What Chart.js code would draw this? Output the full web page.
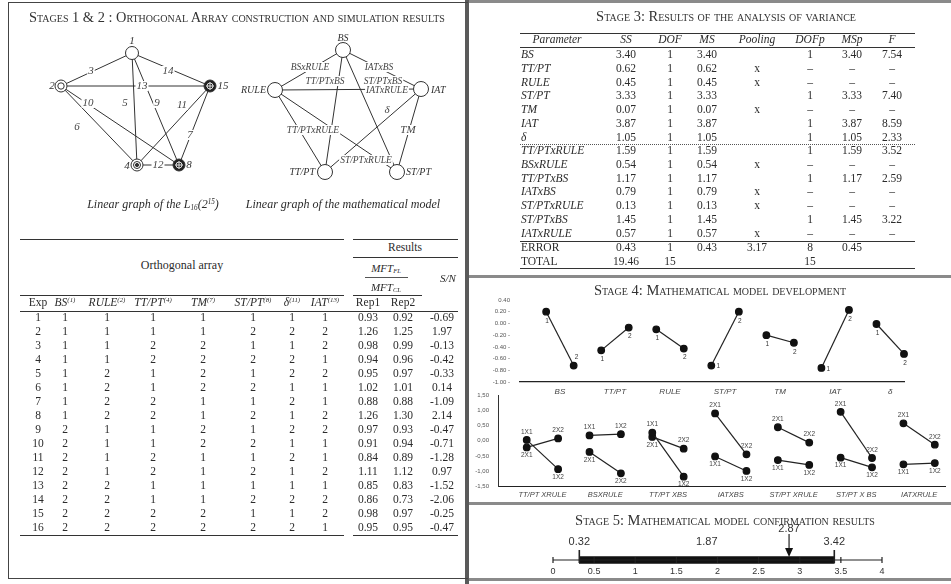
<!DOCTYPE html>
<html lang="en">
<head>
<meta charset="UTF-8">
<title>Taguchi design stages</title>
<script src="https://cdn.jsdelivr.net/npm/chart.js@4.4.1/dist/chart.umd.min.js"></script>
<style>
  body { margin: 0; background: #fff; }
  #page { position: relative; width: 951px; height: 584px; overflow: hidden;
          font-family: "Liberation Serif", "DejaVu Serif", serif; color: #2b2b2b; }
  .abs { position: absolute; white-space: nowrap; line-height: 1; }
  .sc { font-variant: small-caps; font-size: 14.5px; color: #333; }
  .it { font-style: italic; }
  sup { font-size: 0.6em; vertical-align: 0.55em; line-height: 0; }
  sub { font-size: 0.6em; vertical-align: -0.3em; line-height: 0; }
  canvas { position: absolute; }
</style>
</head>
<body>
<div id="page">
  <canvas id="graphs" width="470" height="176" style="left:0;top:24px"></canvas>
  <canvas id="mainFx" width="481" height="114" style="left:470px;top:286px"></canvas>
  <canvas id="interFx" width="481" height="120" style="left:470px;top:383px"></canvas>
  <canvas id="confirm" width="481" height="80" style="left:470px;top:497px"></canvas>
</div>
<script>
// ---- data ----
const oaFactors = ['BS', 'RULE', 'TT/PT', 'TM', 'ST/PT', 'δ', 'IAT'];
const oaColumns = [1, 2, 4, 7, 8, 11, 13];
const oaRows = [
  [1, 1, 1, 1, 1, 1, 1], [1, 1, 1, 1, 2, 2, 2], [1, 1, 2, 2, 1, 1, 2], [1, 1, 2, 2, 2, 2, 1],
  [1, 2, 1, 2, 1, 2, 2], [1, 2, 1, 2, 2, 1, 1], [1, 2, 2, 1, 1, 2, 1], [1, 2, 2, 1, 2, 1, 2],
  [2, 1, 1, 2, 1, 2, 2], [2, 1, 1, 2, 2, 1, 1], [2, 1, 2, 1, 1, 2, 1], [2, 1, 2, 1, 2, 1, 2],
  [2, 2, 1, 1, 1, 1, 1], [2, 2, 1, 1, 2, 2, 2], [2, 2, 2, 2, 1, 1, 2], [2, 2, 2, 2, 2, 2, 1]
];
const rep1 = ['0.93', '1.26', '0.98', '0.94', '0.95', '1.02', '0.88', '1.26', '0.97', '0.91', '0.84', '1.11', '0.85', '0.86', '0.98', '0.95'];
const rep2 = ['0.92', '1.25', '0.99', '0.96', '0.97', '1.01', '0.88', '1.30', '0.93', '0.94', '0.89', '1.12', '0.83', '0.73', '0.97', '0.95'];
const sn = ['-0.69', '1.97', '-0.13', '-0.42', '-0.33', '0.14', '-1.09', '2.14', '-0.47', '-0.71', '-1.28', '0.97', '-1.52', '-2.06', '-0.25', '-0.47'];

const anovaParams = ['BS', 'TT/PT', 'RULE', 'ST/PT', 'TM', 'IAT', 'δ', 'TT/PTxRULE', 'BSxRULE', 'TT/PTxBS',
  'IATxBS', 'ST/PTxRULE', 'ST/PTxBS', 'IATxRULE', 'ERROR', 'TOTAL'];
const anovaSS = ['3.40', '0.62', '0.45', '3.33', '0.07', '3.87', '1.05', '1.59', '0.54', '1.17', '0.79', '0.13', '1.45', '0.57', '0.43', '19.46'];
const anovaDOF = ['1', '1', '1', '1', '1', '1', '1', '1', '1', '1', '1', '1', '1', '1', '1', '15'];
const anovaMS = ['3.40', '0.62', '0.45', '3.33', '0.07', '3.87', '1.05', '1.59', '0.54', '1.17', '0.79', '0.13', '1.45', '0.57', '0.43', ''];
const anovaPool = ['', 'x', 'x', '', 'x', '', '', '', 'x', '', 'x', 'x', '', 'x', '3.17', ''];
const anovaDOFp = ['1', '–', '–', '1', '–', '1', '1', '1', '–', '1', '–', '–', '1', '–', '8', '15'];
const anovaMSp = ['3.40', '–', '–', '3.33', '–', '3.87', '1.05', '1.59', '–', '1.17', '–', '–', '1.45', '–', '0.45', ''];
const anovaF = ['7.54', '–', '–', '7.40', '–', '8.59', '2.33', '3.52', '–', '2.59', '–', '–', '3.22', '–', '', ''];

// S/N level means
const mainFactors = ['BS', 'TT/PT', 'RULE', 'ST/PT', 'TM', 'IAT', 'δ'];
const mainLevel1 = [0.20, -0.46, -0.10, -0.72, -0.20, -0.76, -0.01];
const mainLevel2 = [-0.72, -0.07, -0.43, 0.20, -0.33, 0.23, -0.52];

// interaction means, AxB -> level of A, level of B
const interNames = ['TT/PT XRULE', 'BSXRULE', 'TT/PT XBS', 'IATXBS', 'ST/PT XRULE', 'ST/PT X BS', 'IATXRULE'];
const inter11 = [0.03, 0.18, 0.27, -0.52, -0.64, -0.56, -0.78];
const inter12 = [-0.94, 0.22, -1.19, -1.00, -0.80, -0.88, -0.74];
const inter21 = [-0.22, -0.37, 0.13, 0.91, 0.45, 0.96, 0.58];
const inter22 = [0.08, -1.08, -0.26, -0.45, -0.06, -0.57, -0.13];

// confirmation interval
const confLow = 0.32, confMean = 1.87, confHigh = 3.42, confObserved = 2.87;

// linear graphs: nodes [id, x, y, mark, label, label x, label y, align]
const graphNodes = [
  ['a1', 132, 53, 'open', '1', 132, 41, 'center'],
  ['a2', 61, 86, 'double', '2', 52, 86, 'center'],
  ['a15', 210, 86, 'dark', '15', 223, 86, 'center'],
  ['a4', 137, 165, 'bull', '4', 127, 166, 'center'],
  ['a8', 179, 165, 'dark', '8', 189, 165, 'center'],
  ['BS', 343, 50, 'big', 'BS', 343, 38, 'center'],
  ['RULE', 275, 90, 'big', 'RULE', 266, 90, 'right'],
  ['IAT', 421, 89, 'big', 'IAT', 431, 90, 'left'],
  ['TTPT', 325, 172, 'big', 'TT/PT', 315, 172, 'right'],
  ['STPT', 397, 172, 'big', 'ST/PT', 406, 172, 'left']
];
// edges [from, to, label, label x, label y]
const graphEdges = [
  ['a1', 'a2', '3', 91, 71], ['a1', 'a15', '14', 168, 71], ['a2', 'a15', '13', 142, 86],
  ['a2', 'a8', '10', 88, 103], ['a2', 'a4', '6', 77, 127], ['a1', 'a4', '5', 125, 103],
  ['a1', 'a8', '9', 157, 103], ['a15', 'a4', '11', 182, 105], ['a15', 'a8', '7', 190, 135],
  ['a4', 'a8', '12', 158, 165],
  ['BS', 'RULE', 'BSxRULE', 310, 67], ['BS', 'IAT', 'IATxBS', 379, 67],
  ['BS', 'TTPT', 'TT/PTxBS', 325, 81], ['BS', 'STPT', 'ST/PTxBS', 383, 81],
  ['RULE', 'IAT', 'IATxRULE', 387, 90], ['IAT', 'TTPT', 'δ', 387, 110],
  ['RULE', 'TTPT', 'TT/PTxRULE', 313, 130], ['IAT', 'STPT', 'TM', 408, 130],
  ['RULE', 'STPT', 'ST/PTxRULE', 366, 160]
];

// ---- page helpers ----
const page = document.getElementById('page');
function txt(html, x, y, o = {}) {
  const d = document.createElement('div');
  d.className = 'abs' + (o.cls ? ' ' + o.cls : '');
  d.innerHTML = html;
  const ax = o.align === 'left' ? '0' : o.align === 'right' ? '-100%' : '-50%';
  d.style.left = x + 'px';
  d.style.top = y + 'px';
  d.style.transform = `translate(${ax}, -50%)`;
  if (o.size) d.style.fontSize = o.size + 'px';
  page.appendChild(d);
  return d;
}
function rule(x1, x2, y, w = 1, style = 'solid', color = '#333') {
  const d = document.createElement('div');
  d.className = 'abs';
  Object.assign(d.style, { left: x1 + 'px', top: y + 'px', width: (x2 - x1) + 'px', height: 0,
    borderTop: `${w}px ${style} ${color}` });
  page.appendChild(d);
}
function box(x, y, w, h, bg) {
  const d = document.createElement('div');
  d.className = 'abs';
  Object.assign(d.style, { left: x + 'px', top: y + 'px', width: w + 'px', height: h + 'px', background: bg });
  page.prepend(d);
}

// frames
box(8, 2, 1, 577, '#444');
box(8, 2, 460, 1, '#444');
box(8, 578, 460, 1, '#444');
box(465, 0, 4, 584, '#5a5a5a');
[0, 275, 502, 578].forEach(y => box(469, y, 482, 3, '#8a8a8a'));

// titles
txt('Stages 1 &amp; 2 : Orthogonal Array construction and simulation results', 237, 17, { cls: 'sc', size: 14.4 });
txt('Stage 3: Results of the analysis of variance', 726, 16, { cls: 'sc' });
txt('Stage 4: Mathematical model development', 720, 290, { cls: 'sc' });
txt('Stage 5: Mathematical model confirmation results', 725, 520, { cls: 'sc' });
txt('Linear graph of the <i>L</i><sub>16</sub>(2<sup>15</sup>)', 153, 204, { cls: 'it', size: 12 });
txt('Linear graph of the mathematical model', 343, 204, { cls: 'it', size: 12 });

// ---- orthogonal array table ----
const oaX = [65, 107, 153, 203, 253, 292, 325];
const resX = [368, 403, 442];
rule(20, 344, 239); rule(353, 458, 239);
txt('Results', 405, 248, { size: 11.5 });
rule(353, 458, 257);
txt('Orthogonal array', 182, 265, { size: 12 });
txt('MFT<sub>FL</sub>', 386, 268, { cls: 'it', size: 11 });
rule(365, 408, 277, 1, 'solid', '#555');
txt('MFT<sub>CL</sub>', 386, 287, { cls: 'it', size: 11 });
txt('S/N', 448, 278, { cls: 'it', size: 11 });
rule(20, 344, 295); rule(353, 422, 295);
txt('Exp', 38, 303, { size: 11.5 });
oaFactors.forEach((f, i) => txt(`${f}<sup>(${oaColumns[i]})</sup>`, oaX[i], 303, { cls: 'it', size: 11.5 }));
txt('Rep1', resX[0], 303, { size: 11.5 });
txt('Rep2', resX[1], 303, { size: 11.5 });
rule(20, 458, 311);
oaRows.forEach((row, r) => {
  const y = 318 + 14 * r;
  txt(String(r + 1), 38, y, { size: 11.5 });
  row.forEach((lv, c) => txt(String(lv), oaX[c], y, { size: 11.5 }));
  txt(rep1[r], resX[0], y, { size: 11.5 });
  txt(rep2[r], resX[1], y, { size: 11.5 });
  txt(sn[r], resX[2], y, { size: 11.5 });
});
rule(20, 344, 535, 1.5); rule(353, 458, 535, 1.5);

// ---- ANOVA table ----
const avX = [626, 670, 707, 757, 810, 852, 892];
rule(520, 915, 33);
txt('Parameter', 557, 40, { cls: 'it', size: 11.5 });
['SS', 'DOF', 'MS', 'Pooling', 'DOFp', 'MSp', 'F'].forEach((h, i) => txt(h, avX[i], 40, { cls: 'it', size: 11.5 }));
rule(520, 915, 47);
anovaParams.forEach((p, r) => {
  let y;
  if (r < 7) y = 55 + 13.8 * r;
  else if (r < 14) y = 151 + 13.8 * (r - 7);
  else y = 248 + 14 * (r - 14);
  txt(p, 521, y, { cls: r < 14 ? 'it' : '', size: 11.5, align: 'left' });
  [anovaSS, anovaDOF, anovaMS, anovaPool, anovaDOFp, anovaMSp, anovaF].forEach((col, c) => {
    if (col[r]) txt(col[r], avX[c], y, { size: 11.5 });
  });
});
rule(520, 915, 144, 1, 'dotted', '#555');
rule(520, 915, 241);
rule(520, 915, 268, 1.5);

// ---- charts ----
Chart.defaults.font.family = '"Liberation Sans", Arial, sans-serif';
Chart.defaults.color = '#444';
const quiet = { legend: { display: false }, tooltip: { enabled: false } };

// linear graphs
const nodeById = Object.fromEntries(graphNodes.map(n => [n[0], n]));
const graphDecor = {
  id: 'graphDecor',
  afterDatasetsDraw(chart) {
    const { ctx, scales: { x, y } } = chart;
    const X = v => x.getPixelForValue(v), Y = v => y.getPixelForValue(v);
    ctx.save();
    ctx.textBaseline = 'middle';
    graphEdges.forEach(e => {
      const small = e[2].length > 2;
      ctx.font = `italic ${small ? 9.5 : 11}px "Liberation Serif"`;
      ctx.textAlign = 'center';
      const w = ctx.measureText(e[2]).width;
      ctx.fillStyle = '#fff';
      ctx.fillRect(X(e[3]) - w / 2 - 1, Y(e[4]) - 5, w + 2, 10);
      ctx.fillStyle = '#444';
      ctx.fillText(e[2], X(e[3]), Y(e[4]));
    });
    graphNodes.forEach(([id, nx, ny, mark, label, lx, ly, align]) => {
      const cx = X(nx), cy = Y(ny);
      ctx.lineWidth = 1;
      ctx.strokeStyle = '#333';
      const circle = (r, fill) => {
        ctx.beginPath(); ctx.arc(cx, cy, r, 0, Math.PI * 2);
        if (fill) { ctx.fillStyle = fill; ctx.fill(); }
        ctx.stroke();
      };
      if (mark === 'open') circle(6.5, '#fff');
      if (mark === 'big') circle(7.5, '#fff');
      if (mark === 'double') { circle(6, '#fff'); circle(3.2); }
      if (mark === 'bull') { circle(6, '#fff'); circle(3.5); circle(1.6, '#333'); }
      if (mark === 'dark') {
        circle(6, '#222');
        ctx.strokeStyle = '#ddd';
        circle(3);
        ctx.beginPath();
        ctx.moveTo(cx - 4, cy); ctx.lineTo(cx + 4, cy);
        ctx.moveTo(cx, cy - 4); ctx.lineTo(cx, cy + 4);
        ctx.stroke();
      }
      ctx.fillStyle = '#333';
      ctx.font = `italic ${id.startsWith('a') ? 11 : 10}px "Liberation Serif"`;
      ctx.textAlign = align;
      ctx.fillText(label, X(lx), Y(ly));
    });
    ctx.restore();
  }
};
new Chart(document.getElementById('graphs'), {
  type: 'scatter',
  data: {
    datasets: graphEdges.map(e => ({
      data: [e[0], e[1]].map(id => ({ x: nodeById[id][1], y: nodeById[id][2] })),
      showLine: true, borderColor: '#333', borderWidth: 1, pointRadius: 0
    }))
  },
  options: {
    responsive: false, animation: false, events: [],
    layout: { padding: 0 },
    plugins: quiet,
    scales: {
      x: { type: 'linear', min: 0, max: 470, display: false },
      y: { type: 'linear', min: 24, max: 200, reverse: true, display: false }
    }
  },
  plugins: [graphDecor]
});

// level labels "1" / "2" next to main effect points
const levelTags = {
  id: 'levelTags',
  afterDatasetsDraw(chart) {
    const { ctx } = chart;
    ctx.save();
    ctx.font = '6.5px "Liberation Sans"';
    ctx.fillStyle = '#333';
    ctx.textAlign = 'center';
    ctx.textBaseline = 'middle';
    chart.data.datasets.forEach((ds, i) => {
      chart.getDatasetMeta(i).data.forEach((pt, j) => {
        const v = ds.data[j].y;
        if (v < -0.6) ctx.fillText(String(j + 1), pt.x + (j ? 3 : 7), pt.y + (j ? -8 : 1));
        else ctx.fillText(String(j + 1), pt.x + 1, pt.y + 9);
      });
    });
    ctx.restore();
  }
};
new Chart(document.getElementById('mainFx'), {
  type: 'scatter',
  data: {
    datasets: mainFactors.map((f, i) => ({
      label: f,
      data: [{ x: 2 * i, y: mainLevel1[i] }, { x: 2 * i + 1, y: mainLevel2[i] }],
      showLine: true, borderColor: '#222', borderWidth: 1.2, clip: false,
      pointRadius: 3.3, pointBackgroundColor: '#111', pointBorderColor: '#111'
    }))
  },
  options: {
    responsive: false, animation: false, events: [],
    layout: { padding: { top: 14, right: 47, left: 0, bottom: 0 } },
    plugins: quiet,
    scales: {
      x: {
        type: 'linear', min: -0.95, max: 13,
        afterFit: s => { s.height = 18; },
        afterBuildTicks: s => { s.ticks = mainFactors.map((_, i) => ({ value: 2 * i + 0.5 })); },
        ticks: { callback: v => mainFactors[Math.round((v - 0.5) / 2)], font: { size: 8, style: 'italic' },
                 color: '#444', padding: 5, maxRotation: 0, autoSkip: false },
        grid: { display: false, drawTicks: false },
        border: { display: true, color: '#222', width: 1.3 }
      },
      y: {
        min: -1, max: 0.4,
        afterFit: s => { s.width = 50; },
        ticks: { stepSize: 0.2, font: { size: 6 }, color: '#555', padding: 10,
                 callback: v => v > 0.39 ? v.toFixed(2) : (Math.round(v * 100) / 100).toFixed(2) + ' -' },
        grid: { display: false, drawTicks: false },
        border: { display: false }
      }
    }
  },
  plugins: [levelTags]
});

// "AxB" tags, higher point of each pair labelled above, lower below
const comboTags = {
  id: 'comboTags',
  afterDatasetsDraw(chart) {
    const { ctx } = chart;
    const sets = chart.data.datasets;
    ctx.save();
    ctx.font = '6.5px "Liberation Sans"';
    ctx.fillStyle = '#444';
    ctx.textAlign = 'center';
    ctx.textBaseline = 'middle';
    sets.forEach((ds, i) => {
      const other = sets[i ^ 1];
      chart.getDatasetMeta(i).data.forEach((pt, j) => {
        const up = ds.data[j].y >= other.data[j].y;
        ctx.fillText(ds.tags[j], pt.x, pt.y + (up ? -8 : 8));
      });
    });
    ctx.restore();
  }
};
new Chart(document.getElementById('interFx'), {
  type: 'scatter',
  data: {
    datasets: interNames.flatMap((n, i) => [
      { data: [{ x: 2 * i, y: inter11[i] }, { x: 2 * i + 1, y: inter12[i] }], tags: ['1X1', '1X2'] },
      { data: [{ x: 2 * i, y: inter21[i] }, { x: 2 * i + 1, y: inter22[i] }], tags: ['2X1', '2X2'] }
    ].map(d => Object.assign(d, {
      showLine: true, borderColor: '#222', borderWidth: 1.2, clip: false,
      pointRadius: 3.3, pointBackgroundColor: '#111', pointBorderColor: '#111'
    })))
  },
  options: {
    responsive: false, animation: false, events: [],
    layout: { padding: { top: 7, right: 1, left: 0, bottom: 0 } },
    plugins: quiet,
    scales: {
      x: {
        type: 'linear', min: -0.915, max: 13.35,
        afterFit: s => { s.height = 17; },
        afterBuildTicks: s => { s.ticks = interNames.map((_, i) => ({ value: 2 * i + 0.5 })); },
        ticks: { callback: v => interNames[Math.round((v - 0.5) / 2)], font: { size: 7.5, style: 'italic' },
                 color: '#444', padding: 4, maxRotation: 0, autoSkip: false },
        grid: { display: false, drawTicks: false },
        border: { display: true, color: '#222', width: 1 }
      },
      y: {
        min: -1.5, max: 1.5,
        afterFit: s => { s.width = 28; },
        ticks: { stepSize: 0.5, font: { size: 6 }, color: '#555', padding: 9,
                 callback: v => v.toFixed(2).replace('.', ',') },
        grid: { display: false, drawTicks: false },
        border: { display: true, color: '#333', width: 1 }
      }
    }
  },
  plugins: [comboTags]
});

// confirmation interval on a number line
const numberLine = {
  id: 'numberLine',
  afterDatasetsDraw(chart) {
    const { ctx, chartArea: a, scales: { x } } = chart;
    const X = v => x.getPixelForValue(v);
    const yc = (a.top + a.bottom) / 2;
    ctx.save();
    ctx.strokeStyle = '#222';
    ctx.lineWidth = 1.2;
    ctx.beginPath();
    ctx.moveTo(X(0), yc); ctx.lineTo(X(4), yc);
    x.ticks.forEach(t => { ctx.moveTo(X(t.value), yc - 3); ctx.lineTo(X(t.value), yc + 3); });
    ctx.stroke();
    ctx.lineWidth = 1.6;
    ctx.beginPath();
    [confLow, confHigh].forEach(v => { ctx.moveTo(X(v), yc - 10); ctx.lineTo(X(v), yc + 3); });
    ctx.stroke();
    // observed value arrow
    const ox = X(confObserved);
    ctx.lineWidth = 1.2;
    ctx.beginPath();
    ctx.moveTo(ox, yc - 26); ctx.lineTo(ox, yc - 10);
    ctx.stroke();
    ctx.fillStyle = '#111';
    ctx.beginPath();
    ctx.moveTo(ox - 4, yc - 12); ctx.lineTo(ox + 4, yc - 12); ctx.lineTo(ox, yc - 3);
    ctx.closePath(); ctx.fill();
    ctx.fillStyle = '#333';
    ctx.font = '11px "Liberation Sans"';
    ctx.textAlign = 'center';
    ctx.textBaseline = 'middle';
    [confLow, confMean, confHigh].forEach(v => ctx.fillText(v.toFixed(2), X(v), yc - 18));
    ctx.fillText(confObserved.toFixed(2), ox, yc - 31);
    ctx.restore();
  }
};
new Chart(document.getElementById('confirm'), {
  type: 'bar',
  data: {
    labels: ['interval'],
    datasets: [{ data: [[confLow, confHigh]], backgroundColor: '#111', barThickness: 7 }]
  },
  options: {
    indexAxis: 'y',
    responsive: false, animation: false, events: [],
    layout: { padding: { top: 58, right: 69, left: 83, bottom: 0 } },
    plugins: quiet,
    scales: {
      x: {
        min: 0, max: 4,
        afterFit: s => { s.height = 12; },
        ticks: { stepSize: 0.5, font: { size: 9 }, color: '#333', padding: 1, callback: v => String(v) },
        grid: { display: false, drawTicks: false },
        border: { display: false }
      },
      y: { display: false }
    }
  },
  plugins: [numberLine]
});
</script>
</body>
</html>
